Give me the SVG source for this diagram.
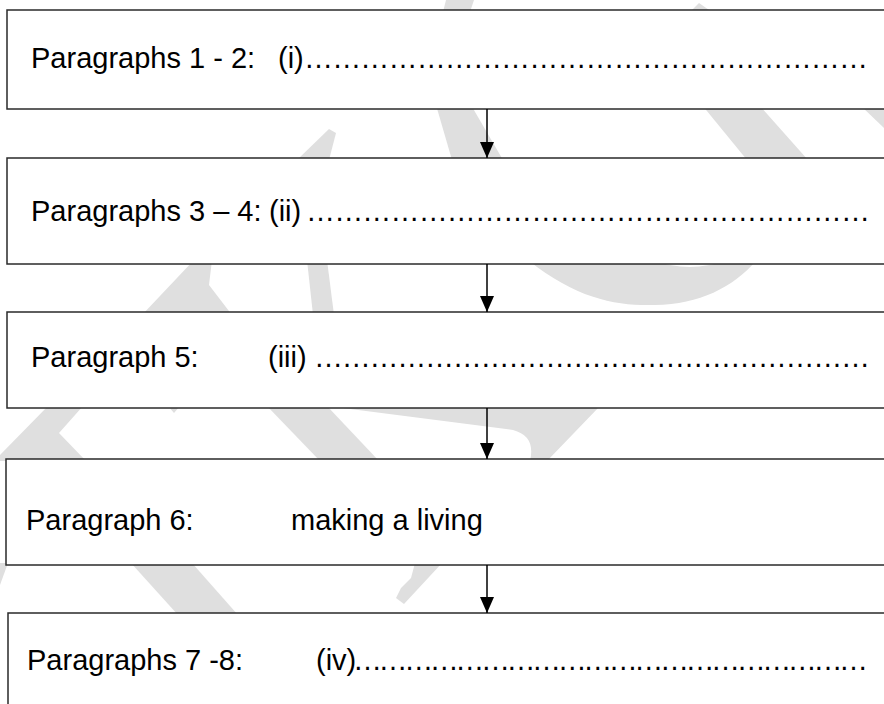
<svg xmlns="http://www.w3.org/2000/svg" width="884" height="704" viewBox="0 0 884 704">
<defs>
<style>
.wm{fill:#dfdfdf;stroke:none}
.box{fill:#ffffff;stroke:#2a2a2a;stroke-width:1.5}
.t{font-family:"Liberation Sans",Arial,sans-serif;font-size:29px;fill:#000}
.conn{stroke:#000;stroke-width:1.5;fill:none}
</style>
<marker id="ah" viewBox="0 0 16 14" refX="16" refY="7" markerWidth="16" markerHeight="14" markerUnits="userSpaceOnUse" orient="auto">
<path d="M0,0 L16,7 L0,14 Z" fill="#000"/>
</marker>
</defs>
<rect width="884" height="704" fill="#ffffff"/>
<g id="watermark">
<polygon class="wm" points="446,0 474,0 470,12 443,12"/>
<polygon class="wm" points="690,12 699,3 712,12"/>
<polygon class="wm" points="329,129 336,133 329,160 297,160"/>
<polygon class="wm" points="436,105 471,105 503,160 452,160"/>
<polygon class="wm" points="702,105 759,105 808,160 747,160"/>
<polygon class="wm" points="860,105 884,105 884,128"/>
<polygon class="wm" points="194,260 212,260 209,285 232,315 142,315"/>
<polygon class="wm" points="307,260 327,260 334,315 313,315"/>
<path class="wm" d="M528,260 C578,300 618,306 655,305 C700,304 732,288 757,260 L727,260 Q690,274 652,260 Z"/>
<polygon class="wm" points="48,406 83,406 59,433 86,461 0,461 0,455"/>
<polygon class="wm" points="168,406 180,406 174,413"/>
<polygon class="wm" points="267,406 327,406 379,461 320,461"/>
<path class="wm" d="M327,406 L600,406 L547,461 L530,461 Q536,436 513,430 Z"/>
<polygon class="wm" points="0,563 8,563 0,585"/>
<polygon class="wm" points="131,563 192,563 238,615 178,615"/>
<polygon class="wm" points="415,563 442,563 404,604 396,598 401,588 411,578"/>
</g>
<g id="node1">
<rect class="box" x="7" y="10" width="890" height="99"/>
<text class="t" x="31" y="68">Paragraphs 1 - 2:</text>
<text class="t" x="278" y="68">(i)</text>
<text class="t" x="304" y="68" textLength="564" lengthAdjust="spacing">……………………………………………………</text>
</g>
<g id="node2">
<rect class="box" x="7" y="158" width="890" height="106"/>
<text class="t" x="31" y="221">Paragraphs 3 – 4:</text>
<text class="t" x="269" y="221">(ii)</text>
<text class="t" x="306" y="221" textLength="564" lengthAdjust="spacing">……………………………………………………</text>
</g>
<g id="node3">
<rect class="box" x="7" y="312" width="890" height="96"/>
<text class="t" x="31" y="367">Paragraph 5:</text>
<text class="t" x="268" y="367">(iii)</text>
<text class="t" x="314" y="367" textLength="556" lengthAdjust="spacing">……………………………………………………</text>
</g>
<g id="node4">
<rect class="box" x="6" y="459" width="890" height="106"/>
<text class="t" x="26" y="530">Paragraph 6:</text>
<text class="t" x="291" y="530">making a living</text>
</g>
<g id="node5">
<rect class="box" x="8" y="613" width="890" height="100"/>
<text class="t" x="27" y="670">Paragraphs 7 -8:</text>
<text class="t" x="316" y="670">(iv)</text>
<text class="t" x="353" y="670" textLength="515" lengthAdjust="spacing">……………………………………………………</text>
</g>
<g id="connectors">
<line class="conn" x1="487" y1="109" x2="487" y2="158" marker-end="url(#ah)"/>
<line class="conn" x1="487" y1="264" x2="487" y2="312" marker-end="url(#ah)"/>
<line class="conn" x1="487" y1="408" x2="487" y2="459" marker-end="url(#ah)"/>
<line class="conn" x1="487" y1="565" x2="487" y2="613" marker-end="url(#ah)"/>
</g>
</svg>
